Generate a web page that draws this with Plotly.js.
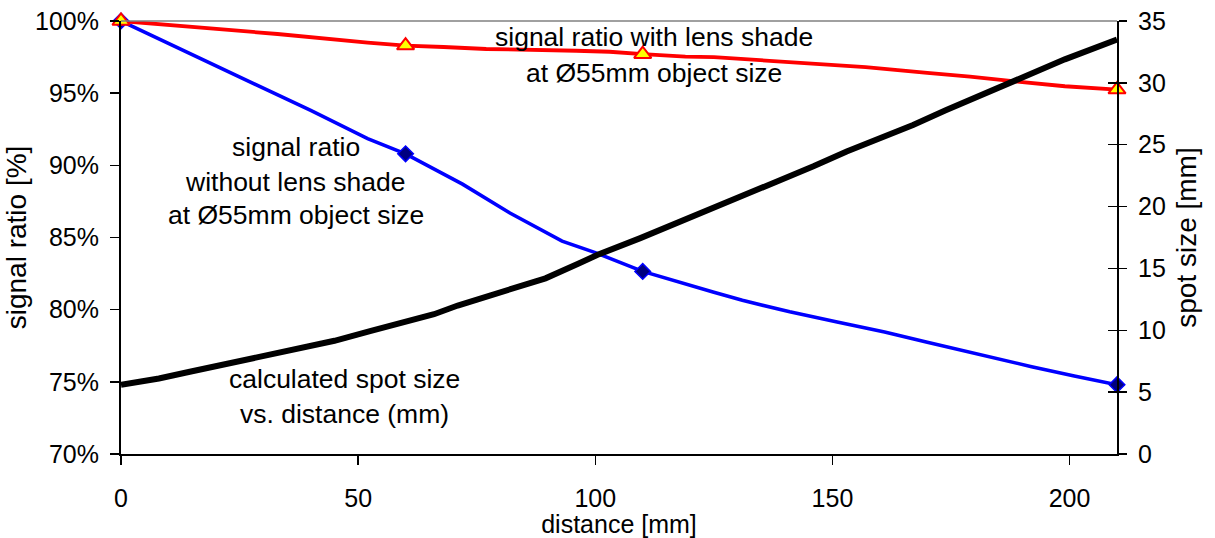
<!DOCTYPE html>
<html><head><meta charset="utf-8">
<script src="https://cdn.plot.ly/plotly-3.0.1.min.js"></script>
<style>html,body{margin:0;padding:0;background:#fff}#chart{width:1215px;height:538px}</style>
</head><body><div id="chart"></div>
<script>
// distance [mm] and signal ratio [%] without lens shade (continuous curve)
const blueX = [0, 12, 26, 40, 52, 60, 72, 82, 93, 100, 110, 115, 119, 125, 131, 141, 151, 161, 170, 177, 184, 192, 201, 210];
const blueY = [100, 98.15, 95.95, 93.8, 91.85, 90.8, 88.7, 86.7, 84.75, 83.95, 82.65, 82.15, 81.8, 81.2, 80.65, 79.85, 79.15, 78.45, 77.75, 77.2, 76.65, 76.05, 75.4, 74.8];
// signal ratio [%] with lens shade (continuous curve)
const redX = [0, 19, 33, 52, 60, 68, 77, 96, 103, 110, 119, 125, 134, 143, 157, 170, 179, 189, 199, 210];
const redY = [100, 99.5, 99.1, 98.5, 98.3, 98.2, 98.06, 97.94, 97.87, 97.7, 97.53, 97.5, 97.3, 97.07, 96.8, 96.4, 96.15, 95.8, 95.48, 95.25];
// measured points
const markX = [0, 60, 110, 210];
const blueMarkY = [100, 90.8, 82.65, 74.8];
const redMarkY = [100, 98.3, 97.7, 95.25];
// calculated spot size [mm]
const blackX = [0, 8, 14.5, 24.5, 34.5, 45, 52.7, 59.5, 66, 71, 75, 82.5, 89.5, 96.5, 100.5, 109.5, 118, 126.5, 132, 146, 153, 160, 167, 174, 188, 199, 210];
const blackY = [5.6, 6.1, 6.65, 7.5, 8.3, 9.15, 9.95, 10.6, 11.3, 12.0, 12.45, 13.3, 14.2, 15.4, 16.1, 17.45, 18.8, 20.05, 20.95, 23.25, 24.45, 25.5, 26.6, 27.8, 30.1, 31.9, 33.5];

const yTickVals = [70, 75, 80, 85, 90, 95, 100];
const yTickText = yTickVals.map(v => v + '%');
const xTickVals = [0, 50, 100, 150, 200];
const y2TickVals = [0, 5, 10, 15, 20, 25, 30, 35];

const FONT = 'Liberation Sans, Arial, sans-serif';
const FS = 25;
const AFS = 26.5;
const TFS = 28;

const traces = [
  {x: blueX, y: blueY, mode: 'lines', line: {color: '#0000FF', width: 3.6}, cliponaxis: false, hoverinfo: 'skip'},
  {x: redX, y: redY, mode: 'lines', line: {color: '#FF0000', width: 3.8}, cliponaxis: false, hoverinfo: 'skip'},
  {x: markX, y: blueMarkY, mode: 'markers', marker: {symbol: 'diamond', size: 12, color: '#000080', line: {color: '#0000FF', width: 1.5}}, cliponaxis: false},
  {x: markX, y: redMarkY, mode: 'markers', marker: {symbol: 'triangle-up', size: 15, color: '#FFFF00', line: {color: '#FF0000', width: 2}}, cliponaxis: false},
  {x: blackX, y: blackY, yaxis: 'y2', mode: 'lines', line: {color: '#000000', width: 6}, cliponaxis: false, hoverinfo: 'skip'},
  {x: blackX, y: blackY, yaxis: 'y3', mode: 'lines', line: {color: 'rgba(0,0,0,0)', width: 0}, hoverinfo: 'skip'}
];

function ann(text, x, y) {
  return {text: text, xref: 'paper', yref: 'paper', x: x, y: y, xanchor: 'center', yanchor: 'middle', showarrow: false, font: {family: FONT, size: AFS, color: '#000'}};
}

const layout = {
  width: 1215, height: 538,
  margin: {l: 121, r: 98, t: 21, b: 84},
  paper_bgcolor: '#fff', plot_bgcolor: '#fff',
  showlegend: false,
  font: {family: FONT, size: FS, color: '#000'},
  xaxis: {
    range: [0, 210], tickvals: xTickVals, ticks: 'outside', ticklen: 9, tickwidth: 1.5, tickcolor: '#000',
    showline: true, linecolor: '#000', linewidth: 2, showgrid: false, zeroline: false,
    ticklabelstandoff: 12,
    title: {text: 'distance [mm]', font: {family: FONT, size: 25}, standoff: 5}
  },
  yaxis: {
    range: [70, 100], tickvals: yTickVals, ticktext: yTickText, ticks: 'outside', ticklen: 9, tickwidth: 1.5, tickcolor: '#000',
    showline: true, linecolor: '#000', linewidth: 2, showgrid: false, zeroline: false,
    ticklabelstandoff: 6,
    title: {text: 'signal ratio [%]', font: {family: FONT, size: TFS}, standoff: 0}
  },
  yaxis2: {
    range: [0, 35], tickvals: y2TickVals, overlaying: 'y', side: 'right', ticks: 'outside', ticklen: 8, tickwidth: 1.5, tickcolor: '#000',
    showline: true, linecolor: '#000', linewidth: 2, showgrid: false, zeroline: false,
    ticklabelstandoff: 6,
    title: {text: 'spot size [mm]', font: {family: FONT, size: TFS}, standoff: 12}
  },
  yaxis3: {
    range: [0, 35], tickvals: y2TickVals, overlaying: 'y', side: 'right', ticks: 'inside', ticklen: 9, tickwidth: 1.5, tickcolor: '#000',
    showline: false, showgrid: false, zeroline: false, showticklabels: false
  },
  shapes: [
    {type: 'line', xref: 'paper', yref: 'paper', x0: 0, x1: 1, y0: 1, y1: 1, line: {color: '#808080', width: 1.5}}
  ],
  annotations: [
    ann('signal ratio with lens shade', 0.535, 0.963),
    ann('at Ø55mm object size', 0.535, 0.881),
    ann('signal ratio', 0.1755, 0.71),
    ann('without lens shade', 0.1755, 0.629),
    ann('at Ø55mm object size', 0.1755, 0.551),
    ann('calculated spot size', 0.224, 0.173),
    ann('vs. distance (mm)', 0.224, 0.092)
  ]
};

Plotly.newPlot('chart', traces, layout, {staticPlot: true, displayModeBar: false});
</script>
</body></html>
